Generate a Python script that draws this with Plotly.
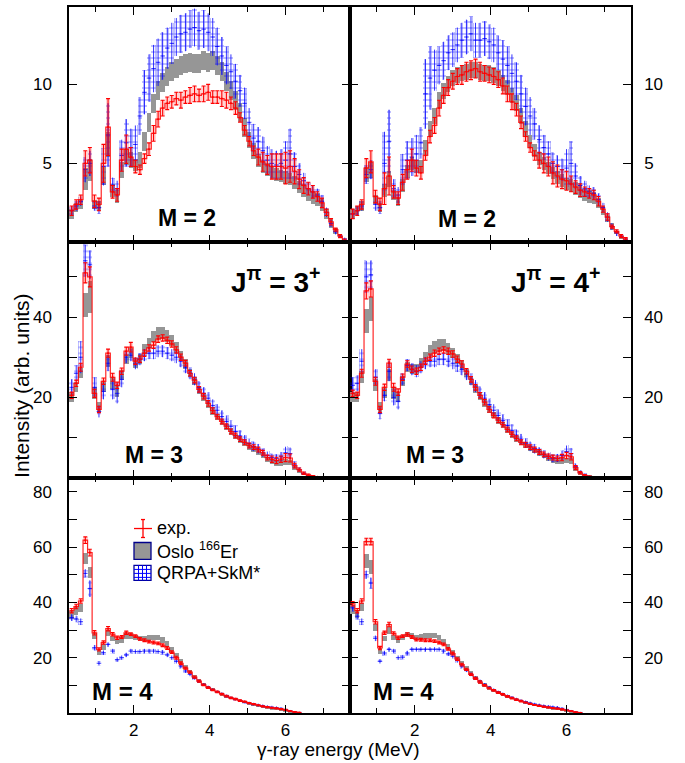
import numpy as np
import plotly.graph_objects as go
from plotly.subplots import make_subplots

FONT = "Liberation Sans, Arial, Helvetica, sans-serif"
BIN = 0.12
energy = np.round(0.36 + BIN * np.arange(61), 2)  # bin centres (MeV)

# ---------------- J=3+, M=2 ----------------
exp_3p_m2 = [2.0,2.4,2.7,5.0,5.2,2.6,2.4,5.0,7.3,3.2, 3.0,5.2,5.9,5.4,4.8,4.6,5.3,5.9,6.9,7.8,
             8.5,8.8,8.9,9.1,9.0,9.2,9.3,9.4,9.3,9.4, 9.5,9.2,9.2,9.1,9.0,8.8,8.5,7.9,7.1,6.4,
             5.8,5.4,5.1,4.9,4.8,4.8,4.8,4.7,4.8,4.5, 4.0,3.6,3.4,3.2,2.9,2.5,1.9,1.3,0.8,0.4, 0.1]
exp_err_3p_m2 = [0.3,0.3,0.3,0.8,0.8,0.4,0.4,1.2,1.8,0.4, 0.4,0.7,0.9,0.6,0.4,0.3,0.3,0.4,0.5,0.5,
                 0.5,0.4,0.4,0.4,0.5,0.4,0.5,0.5,0.4,0.5, 0.5,0.4,0.4,0.5,0.5,0.4,0.4,0.3,0.3,0.3,
                 0.3,0.5,0.6,0.6,0.8,0.8,0.8,1.0,1.0,0.8, 0.6,0.5,0.4,0.4,0.3,0.3,0.2,0.2,0.1,0.1, 0.1]
oslo_3p_m2 = [1.8,2.2,2.4,4.0,4.6,2.4,2.3,4.2,6.2,3.3, 2.9,4.6,5.4,5.2,4.9,5.2,6.4,7.6,8.8,9.6,
              10.1,10.5,10.8,11.0,11.2,11.3,11.4,11.3,11.3,11.5, 11.4,11.5,11.2,10.8,10.2,9.6,9.0,8.2,7.3,6.5,
              5.8,5.2,4.8,4.6,4.4,4.3,4.2,4.1,4.0,3.8, 3.5,3.3,3.0,2.8,2.7,2.4,1.8,1.2,0.7,0.4, 0.1]
oslo_err_3p_m2 = [0.3,0.3,0.3,0.7,0.7,0.3,0.3,0.6,0.8,0.4, 0.4,0.5,0.5,0.5,0.4,0.5,0.6,0.6,0.6,0.6,
                  0.6,0.6,0.6,0.6,0.6,0.6,0.6,0.6,0.6,0.6, 0.6,0.6,0.6,0.6,0.6,0.6,0.6,0.6,0.6,0.5,
                  0.5,0.4,0.4,0.4,0.4,0.4,0.4,0.4,0.4,0.4, 0.4,0.4,0.4,0.4,0.4,0.4,0.3,0.3,0.2,0.1, 0.05]
qrpa_3p_m2 = [2.0,2.3,2.6,4.6,5.0,2.3,2.2,4.8,6.8,3.6, 3.4,5.5,6.3,6.0,6.2,8.0,9.5,10.4,11.0,11.4,
              11.8,12.3,12.6,13.0,13.2,13.3,13.5,13.6,13.4,13.5, 13.3,13.0,12.4,11.8,11.2,10.8,10.2,9.6,8.8,7.6,
              6.6,6.4,5.8,5.2,5.0,4.9,5.0,5.2,5.6,4.8, 4.3,3.9,3.4,3.2,3.0,2.6,1.9,1.2,0.7,0.4, 0.2]
qrpa_err_3p_m2 = [0.3,0.3,0.3,0.8,0.8,0.3,0.4,1.2,2.0,0.5, 0.5,1.0,1.5,1.2,1.2,1.2,1.4,1.5,1.5,1.5,
                  1.5,1.3,1.3,1.2,1.2,1.2,1.2,1.2,1.2,1.2, 1.2,1.2,1.2,1.2,1.2,1.1,1.1,1.0,1.0,0.9,
                  0.9,0.9,0.9,0.9,0.9,0.9,0.9,1.2,1.6,0.9, 0.7,0.5,0.4,0.4,0.4,0.4,0.3,0.2,0.2,0.1, 0.1]

# ---------------- J=4+, M=2 ----------------
exp_4p_m2 = [1.8,2.0,2.4,4.7,5.1,2.9,2.4,3.4,4.2,3.2, 2.8,3.8,4.6,5.2,4.7,4.4,5.5,6.7,7.4,8.5,
             9.3,9.8,10.2,10.5,10.6,10.8,10.9,11.0,10.8,10.7, 10.6,10.5,10.3,9.9,9.4,8.9,8.4,7.6,6.7,6.0,
             5.5,5.2,5.0,4.8,4.4,4.2,4.0,3.9,3.7,3.5, 3.3,3.2,3.1,3.0,2.6,2.1,1.6,1.0,0.7,0.4, 0.2]
exp_err_4p_m2 = [0.3,0.3,0.3,0.6,0.7,0.4,0.4,1.0,1.2,0.4, 0.4,0.5,0.6,0.7,0.5,0.4,0.3,0.4,0.5,0.5,
                 0.5,0.5,0.5,0.5,0.6,0.6,0.6,0.6,0.6,0.5, 0.5,0.5,0.5,0.5,0.5,0.5,0.4,0.4,0.3,0.3,
                 0.3,0.5,0.6,0.6,0.7,0.7,0.6,0.6,0.5,0.4, 0.4,0.3,0.3,0.3,0.3,0.2,0.2,0.1,0.1,0.1, 0.1]
oslo_4p_m2 = [1.8,2.0,2.3,4.3,4.6,2.7,2.2,3.3,4.0,3.0, 2.6,3.6,4.5,5.0,4.8,4.8,6.0,7.2,8.0,9.0,
              9.6,10.0,10.4,10.6,10.7,10.8,10.9,10.9,10.8,10.7, 10.7,10.6,10.4,10.1,9.8,9.3,8.8,8.0,7.2,6.4,
              5.8,5.3,5.0,4.7,4.4,4.1,3.9,3.7,3.6,3.4, 3.2,3.0,2.9,2.8,2.5,2.0,1.5,1.0,0.6,0.3, 0.1]
oslo_err_4p_m2 = [0.3,0.3,0.3,0.5,0.5,0.3,0.3,0.4,0.5,0.3, 0.3,0.4,0.4,0.4,0.4,0.4,0.5,0.5,0.5,0.5,
                  0.5,0.5,0.5,0.5,0.5,0.5,0.5,0.5,0.5,0.5, 0.5,0.5,0.5,0.5,0.5,0.5,0.5,0.5,0.5,0.4,
                  0.4,0.4,0.4,0.4,0.4,0.4,0.4,0.4,0.4,0.4, 0.4,0.4,0.4,0.4,0.3,0.3,0.2,0.2,0.1,0.1, 0.05]
qrpa_4p_m2 = [1.8,2.0,2.3,4.3,4.6,2.4,2.2,5.0,6.4,3.4, 3.0,4.6,5.2,5.4,5.6,6.3,9.4,10.4,10.9,11.2,
              11.5,12.0,12.2,12.5,12.8,13.0,13.2,12.8,12.8,12.9, 12.7,12.5,12.0,11.6,11.2,10.7,10.2,9.4,8.6,8.0,
              7.5,6.5,6.0,5.6,5.0,4.8,4.6,4.7,5.0,4.2, 3.6,3.4,3.2,3.1,2.7,2.2,1.6,1.0,0.6,0.4, 0.2]
qrpa_err_4p_m2 = [0.3,0.3,0.3,0.6,0.6,0.4,0.4,2.0,2.0,0.6, 0.5,1.0,1.2,1.2,1.2,1.0,2.2,2.0,1.3,1.2,
                  1.2,1.1,1.1,1.1,1.1,1.1,1.1,1.1,1.1,1.1, 1.1,1.1,1.1,1.2,1.2,1.2,1.2,1.2,1.2,1.2,
                  1.0,0.9,0.8,0.8,0.7,0.7,0.7,1.2,1.4,0.8, 0.6,0.5,0.4,0.4,0.4,0.3,0.3,0.2,0.2,0.1, 0.1]

# ---------------- J=3+, M=3 ----------------
exp_3p_m3 = [20.5,23.5,27.5,51.0,50.0,21.0,17.0,24.0,31.0,25.0, 23.0,26.5,31.5,32.5,29.0,29.5,31.0,32.3,33.0,34.5,
             34.8,34.2,33.3,31.8,30.0,28.5,26.0,24.3,22.0,20.3, 18.5,16.7,15.2,14.0,12.8,11.5,10.5,9.6,8.8,8.0,
             7.6,7.0,6.2,5.0,4.6,4.3,4.6,5.0,4.9,3.0, 2.0,1.1,0.7,0.4,0.2]
exp_err_3p_m3 = [0.8,0.8,1.0,2.5,2.5,1.0,0.8,0.8,1.0,1.0, 0.8,0.8,1.0,1.2,0.8,0.8,0.8,0.8,0.8,0.8,
                 0.8,0.8,0.8,0.8,0.8,0.7,0.7,0.7,0.7,0.7, 0.7,0.7,0.6,0.6,0.6,0.6,0.6,0.6,0.6,0.6,
                 0.6,0.6,0.6,0.6,0.8,0.8,0.8,1.0,1.0,0.6, 0.4,0.3,0.2,0.1,0.1]
oslo_3p_m3 = [20.0,22.5,26.0,43.0,45.0,21.0,17.5,22.5,29.0,23.5, 21.5,25.5,29.5,31.0,28.5,29.5,32.0,33.5,35.0,36.0,
              36.0,35.3,34.0,32.3,30.3,28.3,26.0,24.0,21.8,20.0, 18.3,16.5,15.0,13.8,12.6,11.4,10.2,9.3,8.4,7.6,
              7.0,6.2,5.4,4.4,3.9,3.6,3.6,3.8,3.7,2.4, 1.5,0.8,0.5,0.3,0.1]
oslo_err_3p_m3 = [1.2,1.2,1.2,3.0,4.0,1.5,1.2,1.2,1.5,1.5, 1.5,1.2,1.2,1.2,1.2,1.2,1.2,1.3,1.4,1.5,
                  1.5,1.5,1.4,1.3,1.2,1.2,1.1,1.0,1.0,1.0, 1.0,0.9,0.8,0.8,0.8,0.8,0.7,0.7,0.7,0.7,
                  0.7,0.7,0.7,0.7,0.7,0.7,0.7,0.7,0.7,0.5, 0.4,0.3,0.2,0.1,0.1]
qrpa_3p_m3 = [22.5,26.0,30.0,54.0,53.0,22.5,16.5,21.5,28.5,22.0, 21.0,24.5,30.0,30.5,28.5,29.5,30.5,31.0,31.0,31.5,
              31.5,31.0,30.5,30.0,29.0,27.5,26.0,24.5,22.5,21.0, 19.8,18.0,16.8,15.2,14.0,12.8,11.5,10.4,9.4,8.5,
              7.8,7.2,6.2,5.5,5.0,4.8,5.2,6.2,6.0,3.2, 2.0,1.1,0.6,0.3,0.15]
qrpa_err_3p_m3 = [2.0,2.0,4.0,4.0,3.5,2.5,1.5,2.0,2.0,2.5, 2.5,2.0,1.5,1.5,1.5,1.5,1.5,1.5,1.5,1.5,
                  1.5,1.5,1.5,1.5,1.5,1.5,1.5,1.5,1.5,1.5, 1.5,1.5,1.5,1.5,1.5,1.5,1.5,1.3,1.2,1.2,
                  1.2,1.2,1.0,1.0,1.0,1.0,1.2,1.5,1.5,0.8, 0.5,0.4,0.3,0.2,0.1]

# ---------------- J=4+, M=3 ----------------
exp_4p_m3 = [21.0,20.5,26.0,46.5,47.0,24.0,17.0,22.5,28.5,22.5, 21.3,25.0,28.3,27.0,26.5,27.5,29.0,30.0,31.0,31.5,
             31.8,31.5,30.8,29.5,28.3,26.5,24.5,22.5,20.5,18.8, 17.0,15.5,14.3,13.2,12.0,10.8,9.8,8.8,8.2,7.6,
             7.0,6.4,5.8,5.3,5.0,4.8,5.0,5.5,5.2,2.5, 1.2,0.6,0.3,0.15]
exp_err_4p_m3 = [0.8,0.8,1.0,2.0,2.0,1.0,0.8,0.8,1.0,1.0, 0.8,0.8,0.8,0.8,0.8,0.8,0.8,0.8,0.8,0.8,
                 0.8,0.8,0.8,0.8,0.8,0.7,0.7,0.7,0.7,0.7, 0.7,0.6,0.6,0.6,0.6,0.6,0.6,0.6,0.6,0.6,
                 0.6,0.6,0.6,0.6,0.6,0.6,0.8,0.8,0.8,0.5, 0.3,0.2,0.1,0.1]
oslo_4p_m3 = [20.0,20.0,25.0,39.0,42.0,23.0,17.5,21.0,25.5,21.0, 20.0,24.0,27.5,27.0,27.0,28.5,30.0,31.5,32.5,33.0,
              33.0,32.0,31.0,29.5,28.0,26.0,24.0,22.0,20.3,18.5, 17.0,15.5,14.2,13.0,11.8,10.6,9.6,8.7,8.0,7.3,
              6.7,6.0,5.4,4.8,4.3,4.0,4.0,4.2,4.0,2.0, 1.0,0.5,0.25,0.1]
oslo_err_4p_m3 = [1.2,1.2,1.5,3.0,3.0,1.5,1.2,1.2,1.5,1.5, 1.2,1.2,1.2,1.2,1.2,1.2,1.3,1.4,1.5,1.5,
                  1.5,1.4,1.3,1.2,1.2,1.1,1.0,1.0,1.0,0.9, 0.9,0.8,0.8,0.8,0.7,0.7,0.7,0.7,0.7,0.7,
                  0.7,0.7,0.7,0.7,0.7,0.7,0.7,0.7,0.7,0.5, 0.3,0.2,0.1,0.1]
qrpa_4p_m3 = [23.0,23.5,29.0,50.0,50.5,25.0,16.0,20.5,26.5,20.0, 19.0,24.5,28.0,27.0,26.5,27.5,28.5,29.0,29.0,29.5,
              29.5,29.0,28.5,27.8,27.0,25.8,24.5,22.8,21.2,19.8, 18.2,16.8,15.5,14.2,13.0,11.8,10.6,9.6,8.6,7.8,
              7.2,6.5,5.8,5.2,4.8,4.9,5.5,6.5,6.0,2.8, 1.4,0.7,0.3,0.15]
qrpa_err_4p_m3 = [2.0,2.0,3.0,4.0,3.5,2.0,1.5,1.5,2.5,2.0, 2.0,1.5,1.5,1.5,1.5,1.5,1.5,1.5,1.5,1.5,
                  1.5,1.5,1.5,1.5,1.5,1.5,1.5,1.5,1.5,1.5, 1.5,1.5,1.5,1.5,1.5,1.5,1.4,1.3,1.2,1.2,
                  1.2,1.0,1.0,1.0,1.0,1.0,1.2,1.5,1.4,0.7, 0.4,0.3,0.2,0.1]

# ---------------- J=3+, M=4 ----------------
exp_3p_m4 = [37.0,38.5,40.5,62.5,58.0,29.0,23.0,25.5,30.5,28.5, 27.2,27.5,29.0,28.5,27.8,26.8,26.3,25.8,25.5,25.2,
             24.5,23.5,22.0,20.0,18.0,16.2,14.8,13.0,11.5,10.2, 9.2,8.4,7.6,6.8,6.1,5.5,5.0,4.5,4.1,3.6,
             3.2,2.8,2.4,2.1,1.9,1.7,1.4,1.1,0.7,0.4, 0.15]
exp_err_3p_m4 = [0.8,0.8,0.8,1.2,1.2,0.8,0.6,0.6,0.8,0.6, 0.6,0.5,0.6,0.5,0.5,0.5,0.5,0.5,0.5,0.5,
                 0.5,0.5,0.5,0.5,0.5,0.4,0.4,0.4,0.4,0.3, 0.3,0.3,0.3,0.3,0.3,0.3,0.3,0.3,0.2,0.2,
                 0.2,0.2,0.2,0.2,0.2,0.2,0.2,0.2,0.1,0.1, 0.1]
oslo_3p_m4 = [35.5,37.0,38.0,56.0,51.0,28.0,22.0,24.0,29.0,27.0, 26.0,26.5,28.0,28.0,27.5,27.0,27.0,27.3,27.5,27.5,
              26.5,25.0,23.0,20.8,18.8,16.8,15.0,13.2,11.7,10.4, 9.4,8.5,7.7,6.9,6.2,5.6,5.1,4.6,4.1,3.6,
              3.2,2.8,2.4,2.1,1.8,1.6,1.3,1.0,0.6,0.3, 0.1]
oslo_err_3p_m4 = [1.5,1.5,1.5,2.0,2.0,1.2,1.0,1.0,1.2,1.0, 1.0,1.0,1.0,1.0,1.0,1.0,1.0,1.0,1.0,1.0,
                  1.0,1.0,1.0,0.9,0.9,0.8,0.8,0.7,0.7,0.6, 0.6,0.5,0.5,0.5,0.5,0.4,0.4,0.4,0.4,0.3,
                  0.3,0.3,0.3,0.3,0.3,0.3,0.2,0.2,0.2,0.1, 0.1]
qrpa_3p_m4 = [34.5,34.0,33.0,50.5,45.0,23.6,18.0,21.8,24.8,22.4, 19.3,20.0,21.0,22.4,22.2,22.2,22.4,22.4,22.4,22.2,
              22.0,21.0,20.0,18.7,17.0,15.2,14.0,12.7,11.5,10.3, 9.4,8.5,7.7,7.0,6.2,5.5,5.0,4.5,4.0,3.6,
              3.2,2.9,2.6,2.3,2.1,1.9,1.7,1.3,0.8,0.4, 0.2]
qrpa_err_3p_m4 = [1.2,1.2,1.2,1.5,3.0,1.0,0.8,0.8,0.8,0.8, 0.8,0.8,0.8,0.8,0.8,0.8,0.8,0.8,0.8,0.8,
                  0.8,0.8,0.8,0.8,0.8,0.7,0.7,0.6,0.6,0.5, 0.5,0.5,0.5,0.5,0.5,0.5,0.5,0.5,0.5,0.5,
                  0.5,0.5,0.5,0.5,0.5,0.5,0.4,0.3,0.3,0.2, 0.1]

# ---------------- J=4+, M=4 ----------------
exp_4p_m4 = [39.5,37.0,40.5,62.0,62.0,33.0,23.5,29.0,32.0,28.8, 27.2,27.8,28.4,27.5,26.6,26.5,26.3,26.3,26.0,25.5,
             24.8,23.2,21.5,19.5,17.5,15.8,14.0,12.5,11.2,10.0, 9.0,8.2,7.4,6.7,6.0,5.4,4.8,4.3,3.8,3.3,
             2.9,2.6,2.3,2.0,1.8,1.6,1.3,1.0,0.7,0.3, 0.1]
exp_err_4p_m4 = [0.8,0.8,0.8,1.2,1.2,0.8,0.6,0.6,0.8,0.6, 0.6,0.5,0.6,0.5,0.5,0.5,0.5,0.5,0.5,0.5,
                 0.5,0.5,0.5,0.5,0.5,0.4,0.4,0.4,0.4,0.3, 0.3,0.3,0.3,0.3,0.3,0.3,0.3,0.3,0.2,0.2,
                 0.2,0.2,0.2,0.2,0.2,0.2,0.2,0.2,0.1,0.1, 0.1]
oslo_4p_m4 = [37.5,36.0,38.5,55.0,53.0,31.0,22.5,27.0,30.0,27.5, 26.5,27.5,28.5,28.0,27.5,27.8,28.0,28.2,28.2,27.5,
              26.0,24.0,22.0,20.0,18.0,16.2,14.4,12.8,11.4,10.2, 9.2,8.3,7.5,6.8,6.1,5.5,4.9,4.4,3.9,3.4,
              3.0,2.6,2.3,2.0,1.8,1.6,1.3,1.0,0.6,0.3, 0.1]
oslo_err_4p_m4 = [1.5,1.5,1.5,2.5,2.5,1.2,1.0,1.0,1.2,1.0, 1.0,1.0,1.0,1.0,1.0,1.0,1.0,1.0,1.0,1.0,
                  1.0,1.0,1.0,0.9,0.9,0.8,0.8,0.7,0.7,0.6, 0.6,0.5,0.5,0.5,0.5,0.4,0.4,0.4,0.4,0.3,
                  0.3,0.3,0.3,0.3,0.3,0.3,0.2,0.2,0.2,0.1, 0.1]
qrpa_4p_m4 = [38.0,35.0,33.0,50.0,47.0,27.0,18.7,21.7,23.0,22.4, 20.0,20.2,21.7,23.0,23.0,23.0,23.0,23.0,23.0,23.0,
              22.4,21.4,20.5,19.0,17.0,15.5,14.0,12.7,11.5,10.3, 9.3,8.4,7.6,6.9,6.2,5.6,5.0,4.5,4.0,3.6,
              3.2,2.9,2.6,2.4,2.2,2.0,1.7,1.3,0.8,0.4, 0.2]
qrpa_err_4p_m4 = [1.2,1.2,1.2,1.5,2.0,1.0,0.8,0.8,0.8,0.8, 0.8,0.8,0.8,0.8,0.8,0.8,0.8,0.8,0.8,0.8,
                  0.8,0.8,0.8,0.8,0.8,0.7,0.7,0.6,0.6,0.5, 0.5,0.5,0.5,0.5,0.5,0.5,0.5,0.5,0.5,0.5,
                  0.5,0.5,0.5,0.5,0.5,0.5,0.4,0.3,0.3,0.2, 0.1]

panels = [
    (1, 1, exp_3p_m2, exp_err_3p_m2, oslo_3p_m2, oslo_err_3p_m2, qrpa_3p_m2, qrpa_err_3p_m2),
    (1, 2, exp_4p_m2, exp_err_4p_m2, oslo_4p_m2, oslo_err_4p_m2, qrpa_4p_m2, qrpa_err_4p_m2),
    (2, 1, exp_3p_m3, exp_err_3p_m3, oslo_3p_m3, oslo_err_3p_m3, qrpa_3p_m3, qrpa_err_3p_m3),
    (2, 2, exp_4p_m3, exp_err_4p_m3, oslo_4p_m3, oslo_err_4p_m3, qrpa_4p_m3, qrpa_err_4p_m3),
    (3, 1, exp_3p_m4, exp_err_3p_m4, oslo_3p_m4, oslo_err_3p_m4, qrpa_3p_m4, qrpa_err_3p_m4),
    (3, 2, exp_4p_m4, exp_err_4p_m4, oslo_4p_m4, oslo_err_4p_m4, qrpa_4p_m4, qrpa_err_4p_m4),
]

y_ranges = {1: [0, 14.9], 2: [0, 58.6], 3: [0, 85.1]}
y_ticks = {1: [5, 10], 2: [20, 40], 3: [20, 40, 60, 80]}
y_minor = {1: [], 2: [10, 30, 50], 3: [10, 30, 50, 70]}
x_ticks = [2, 4, 6]
x_minor = [1, 3, 5, 7]

RED = "rgb(255,0,0)"
BLUE = "rgb(0,0,255)"
GRAY = "rgb(150,150,150)"

fig = make_subplots(rows=3, cols=2, horizontal_spacing=0, vertical_spacing=0)

for (r, c, ex, exe, os_, ose, qr, qre) in panels:
    ex, exe = np.array(ex), np.array(exe)
    os_, ose = np.array(os_), np.array(ose)
    qr, qre = np.array(qr), np.array(qre)
    xo = energy[:len(os_)]
    xq = energy[:len(qr)]
    xe = energy[:len(ex)]
    # Oslo band
    fig.add_trace(go.Bar(x=xo, y=2 * ose, base=os_ - ose, width=BIN,
                         marker=dict(color=GRAY, line=dict(width=0)),
                         showlegend=False, hoverinfo="skip"), row=r, col=c)
    # QRPA hatched boxes
    fig.add_trace(go.Bar(x=xq, y=2 * qre, base=qr - qre, width=BIN,
                         marker=dict(color="rgba(0,0,0,0)", line=dict(width=0),
                                     pattern=dict(shape="+", fgcolor=BLUE, bgcolor="rgba(0,0,0,0)",
                                                  size=6, solidity=0.3, fillmode="overlay")),
                         showlegend=False, hoverinfo="skip"), row=r, col=c)
    # QRPA central bars (vertical error lines)
    fig.add_trace(go.Scatter(x=xq, y=qr, mode="markers", marker=dict(size=1, color=BLUE),
                             error_y=dict(type="data", array=qre, color="rgba(0,0,255,0.8)",
                                          thickness=1, width=0),
                             error_x=dict(type="constant", value=BIN / 2, color="rgba(0,0,255,0.8)",
                                          thickness=1, width=0),
                             showlegend=False, hoverinfo="skip"), row=r, col=c)
    # exp. light error band
    fig.add_trace(go.Bar(x=xe, y=2 * exe, base=ex - exe, width=BIN,
                         marker=dict(color="rgba(255,60,60,0.22)", line=dict(width=0)),
                         showlegend=False, hoverinfo="skip"), row=r, col=c)
    # exp. step line
    xs = np.append(xe - BIN / 2, xe[-1] + BIN / 2)
    ys = np.append(ex, ex[-1])
    fig.add_trace(go.Scatter(x=xs, y=ys, mode="lines",
                             line=dict(color="rgba(255,0,0,0.85)", width=1.2, shape="hv"),
                             showlegend=False, hoverinfo="skip"), row=r, col=c)
    # exp. error bars
    fig.add_trace(go.Scatter(x=xe, y=ex, mode="markers",
                             marker=dict(size=2, color=RED),
                             error_y=dict(type="data", array=exe, color=RED, thickness=1.1, width=2),
                             showlegend=False, hoverinfo="skip"), row=r, col=c)

tick_font = dict(family=FONT, size=17, color="black")
for r in (1, 2, 3):
    for c in (1, 2):
        fig.update_xaxes(range=[0.29, 7.70], tickmode="array", tickvals=x_ticks,
                         ticks="inside", ticklen=8, tickwidth=1.3, tickcolor="black",
                         minor=dict(tickmode="array", tickvals=x_minor, ticks="inside",
                                    ticklen=5, tickwidth=1.3, tickcolor="black"),
                         showline=True, linecolor="black", linewidth=1.5, mirror="ticks",
                         showgrid=False, zeroline=False, showticklabels=(r == 3),
                         tickfont=tick_font, ticklabelstandoff=1, row=r, col=c)
        minor = dict(tickmode="array", tickvals=y_minor[r], ticks="inside",
                     ticklen=8, tickwidth=1.3, tickcolor="black") if y_minor[r] else dict(ticks="")
        fig.update_yaxes(range=y_ranges[r], tickmode="array", tickvals=y_ticks[r],
                         ticks="inside", ticklen=8, tickwidth=1.3, tickcolor="black",
                         minor=minor, side=("left" if c == 1 else "right"),
                         showline=True, linecolor="black", linewidth=1.5, mirror="ticks",
                         showgrid=False, zeroline=False, tickfont=tick_font,
                         ticklabelstandoff=(12 if c == 1 else 8), row=r, col=c)

W, H = 685, 763
L, R, T, B = 69, 54, 5, 50
PW, PH = W - L - R, H - T - B


def px(x):
    return (x - L) / PW


def py(y):
    return (H - B - y) / PH


labels = [
    ("<b>M = 2</b>", 187, 217, 23), ("<b>M = 2</b>", 467, 218, 23),
    ("<b>J<sup>π</sup> = 3<sup>+</sup></b>", 276, 279, 28), ("<b>J<sup>π</sup> = 4<sup>+</sup></b>", 556, 279, 28),
    ("<b>M = 3</b>", 154, 454, 23), ("<b>M = 3</b>", 435, 454, 23),
    ("<b>M = 4</b>", 122, 691, 24), ("<b>M = 4</b>", 403, 691, 24),
]
annotations = []
for txt, x, y, s in labels:
    annotations.append(dict(text=txt, x=px(x), y=py(y), xref="paper", yref="paper",
                            showarrow=False, xanchor="center", yanchor="middle",
                            font=dict(family=FONT, size=s, color="black")))

annotations.append(dict(text="Intensity (arb. units)", x=px(22), y=py(385), xref="paper", yref="paper",
                        showarrow=False, textangle=-90, xanchor="center", yanchor="middle",
                        font=dict(family=FONT, size=21, color="black")))
annotations.append(dict(text="γ-ray energy (MeV)", x=px(338), y=py(750), xref="paper", yref="paper",
                        showarrow=False, xanchor="center", yanchor="middle",
                        font=dict(family=FONT, size=19, color="black")))

# legend (drawn manually)
leg_font = dict(family=FONT, size=18, color="black")
for txt, yc in (("exp.", 527), ("Oslo <sup>166</sup>Er", 550), ("QRPA+SkM*", 573)):
    annotations.append(dict(text=txt, x=px(155), y=py(yc), xref="paper", yref="paper",
                            showarrow=False, xanchor="left", yanchor="middle", font=leg_font))

shapes = []


def seg(x0, y0, x1, y1, color, w=1.3):
    shapes.append(dict(type="line", xref="paper", yref="paper", x0=px(x0), y0=py(y0),
                       x1=px(x1), y1=py(y1), line=dict(color=color, width=w)))


# exp symbol
seg(134, 528, 152, 528, RED)
seg(143, 519, 143, 537, RED)
seg(141, 519, 145, 519, RED)
seg(141, 537, 145, 537, RED)
# Oslo symbol
shapes.append(dict(type="rect", xref="paper", yref="paper", x0=px(134), x1=px(151),
                   y0=py(559), y1=py(542), fillcolor=GRAY, line=dict(color="rgb(0,0,140)", width=1.3)))
# QRPA symbol
shapes.append(dict(type="rect", xref="paper", yref="paper", x0=px(134), x1=px(151),
                   y0=py(580), y1=py(565), fillcolor="white", line=dict(color="rgb(0,0,160)", width=1.3)))
for gx in (138.5, 142.5, 146.5):
    seg(gx, 565, gx, 580, BLUE, 1)
for gy in (569, 573, 577):
    seg(134, gy, 151, gy, BLUE, 1)

fig.update_layout(width=W, height=H, margin=dict(l=L, r=R, t=T, b=B),
                  barmode="overlay", bargap=0, showlegend=False,
                  plot_bgcolor="white", paper_bgcolor="white",
                  annotations=annotations, shapes=shapes,
                  font=dict(family=FONT, color="black"))

fig.write_html("out.html", config={"displayModeBar": False},
               post_script="document.body.style.margin='0';")
